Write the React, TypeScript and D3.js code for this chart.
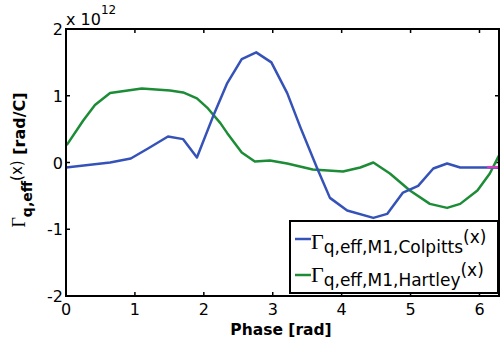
import React from "react";
import * as d3 from "d3";

// phase [rad] / value [x 1e12 rad/C]
const colpittsX = [0, 0.64, 0.94, 1.19, 1.48, 1.7, 1.9, 2.13, 2.34, 2.55, 2.76, 2.98, 3.21, 3.4, 3.64, 3.83, 4.08, 4.46, 4.66, 4.89, 5.11, 5.33, 5.53, 5.72, 6.11, 6.28];
const colpittsY = [-0.075, 0.0, 0.06, 0.21, 0.39, 0.35, 0.075, 0.68, 1.19, 1.55, 1.65, 1.5, 1.04, 0.53, -0.075, -0.53, -0.72, -0.83, -0.77, -0.45, -0.35, -0.09, -0.015, -0.075, -0.075, -0.08];

const hartleyX = [0.01, 0.25, 0.42, 0.64, 1.1, 1.51, 1.7, 1.9, 2.06, 2.24, 2.34, 2.55, 2.74, 2.96, 3.21, 3.58, 4.02, 4.27, 4.46, 4.7, 4.99, 5.28, 5.53, 5.72, 5.97, 6.15, 6.28];
const hartleyY = [0.26, 0.63, 0.86, 1.04, 1.11, 1.08, 1.05, 0.96, 0.81, 0.59, 0.44, 0.15, 0.015, 0.03, -0.015, -0.105, -0.135, -0.075, 0.0, -0.165, -0.42, -0.62, -0.68, -0.62, -0.42, -0.165, 0.1];

// third trace, only visible at the right edge
const extraX = [6.11, 6.28];
const extraY = [-0.07, -0.07];

const xTicks = [0, 1, 2, 3, 4, 5, 6];
const yTicks = [-2, -1, 0, 1, 2];

const BLUE = "#3552b8";
const GREEN = "#1c8c36";
const PINK = "#d040c0";
const FONT = "'DejaVu Sans', Arial, sans-serif";
const SERIF = "'Liberation Serif', 'Times New Roman', serif";

const zip = (xs: number[], ys: number[]) => xs.map((x, i) => [x, ys[i]] as [number, number]);

export default function App() {
  const left = 66;
  const right = 499;
  const top = 29;
  const bottom = 296;

  const x = d3.scaleLinear().domain([0, 2 * Math.PI]).range([left, right]);
  const y = d3.scaleLinear().domain([-2, 2]).range([bottom, top]);

  const line = d3
    .line<[number, number]>()
    .x((d) => x(d[0]))
    .y((d) => y(d[1]));

  const tickLen = 4;

  return (
    <svg
      width={500}
      height={347}
      style={{ position: "absolute", left: 0, top: 0, background: "#fff" }}
      fontFamily={FONT}
    >
      <defs>
        <clipPath id="plotClip">
          <rect x={left} y={top} width={right - left} height={bottom - top} />
        </clipPath>
      </defs>

      {/* ticks on all four sides */}
      {xTicks.map((t) => (
        <g key={"xt" + t}>
          <line x1={x(t)} x2={x(t)} y1={bottom} y2={bottom - tickLen} stroke="#000" strokeWidth={1.5} />
          <line x1={x(t)} x2={x(t)} y1={top} y2={top + tickLen} stroke="#000" strokeWidth={1.5} />
          <text x={x(t)} y={bottom + 19} fontSize={16} textAnchor="middle">
            {t}
          </text>
        </g>
      ))}
      {yTicks.map((t) => (
        <g key={"yt" + t}>
          <line x1={left} x2={left + tickLen} y1={y(t)} y2={y(t)} stroke="#000" strokeWidth={1.5} />
          <line x1={right} x2={right - tickLen} y1={y(t)} y2={y(t)} stroke="#000" strokeWidth={1.5} />
          <text x={left - 3} y={y(t) + 6} fontSize={16} textAnchor="end">
            {t}
          </text>
        </g>
      ))}

      {/* exponent */}
      <text x={left} y={25} fontSize={16}>
        x 10
        <tspan fontSize={12} dy={-11}>
          12
        </tspan>
      </text>

      {/* series */}
      <g clipPath="url(#plotClip)" fill="none" strokeWidth={2.5} strokeLinejoin="round">
        <path d={line(zip(hartleyX, hartleyY)) || ""} stroke={GREEN} />
        <path d={line(zip(colpittsX, colpittsY)) || ""} stroke={BLUE} />
        <path d={line(zip(extraX, extraY)) || ""} stroke={PINK} />
      </g>

      {/* axes box */}
      <rect x={left} y={top} width={right - left} height={bottom - top} fill="none" stroke="#000" strokeWidth={2} />

      {/* legend */}
      <g>
        <rect x={290} y={221} width={208} height={72} fill="#fff" stroke="#000" strokeWidth={2} />
        <line x1={295} x2={311} y1={239} y2={239} stroke={BLUE} strokeWidth={2.5} />
        <text x={311} y={249} fontSize={16}>
          <tspan fontFamily={SERIF} fontSize={22}>Γ</tspan>
          <tspan fontSize={17} dy={4}>q,eff,M1,Colpitts</tspan>
          <tspan fontSize={17} dy={-10}>(x)</tspan>
        </text>
        <line x1={295} x2={311} y1={275} y2={275} stroke={GREEN} strokeWidth={2.5} />
        <text x={311} y={282} fontSize={16}>
          <tspan fontFamily={SERIF} fontSize={22}>Γ</tspan>
          <tspan fontSize={17} dy={4}>q,eff,M1,Hartley</tspan>
          <tspan fontSize={17} dy={-10}>(x)</tspan>
        </text>
      </g>

      {/* axis labels */}
      <text x={281} y={335} fontSize={15.5} fontWeight="bold" textAnchor="middle">
        Phase [rad]
      </text>
      <text transform="translate(25,160) rotate(-90)" fontSize={16} textAnchor="middle">
        <tspan fontFamily={SERIF} fontSize={18}>Γ</tspan>
        <tspan fontWeight="bold" fontSize={14} dy={7}>q,eff</tspan>
        <tspan fontSize={15} dy={-10}>(x)</tspan>
        <tspan fontWeight="bold" fontSize={16} dy={3}> [rad/C]</tspan>
      </text>
    </svg>
  );
}
